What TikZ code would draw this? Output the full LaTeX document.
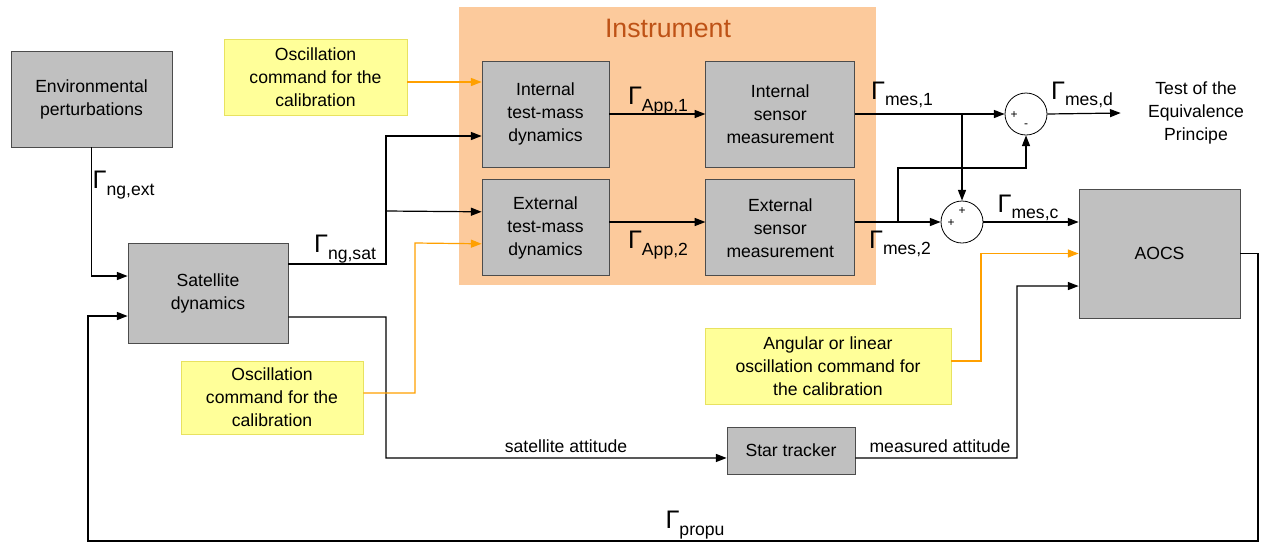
\documentclass[tikz,border=0pt]{standalone}
\usepackage{fontspec}
\setmainfont{Liberation Sans}
\usepackage{tikz}
\usetikzlibrary{shapes.geometric, arrows}
\usetikzlibrary{positioning}
\usetikzlibrary{arrows.meta}
\definecolor{boxgray}{RGB}{192,192,192}
\definecolor{notefill}{RGB}{255,255,153}
\definecolor{notedraw}{RGB}{232,226,96}
\definecolor{instrfill}{RGB}{252,202,156}
\definecolor{instrtext}{RGB}{190,82,22}
\definecolor{cmdorange}{RGB}{255,160,0}
\tikzstyle{block} = [rectangle, draw=black!70, fill=boxgray, line width=0.6pt, align=center, inner sep=2pt]
\tikzstyle{note} = [rectangle, draw=notedraw, fill=notefill, line width=0.6pt, align=center, inner sep=2pt]
\tikzstyle{sumnode} = [circle, draw=black, fill=white, line width=0.6pt, minimum size=31.5pt, inner sep=0pt]
\tikzstyle{arrow} = [line width=0.9pt,-{Triangle[length=8pt,width=6pt]}]
\tikzstyle{oarrow} = [arrow, draw=cmdorange]
\newcommand{\gam}[1]{{\fontsize{19}{19}\selectfont Γ}\raisebox{-5pt}{#1}}

\begin{document}
\begin{tikzpicture}[x=0.75pt, y=-0.75pt, font=\fontsize{13.2}{17.25}\selectfont]
  \tikzstyle{sign}=[inner sep=0pt, font=\fontsize{9}{9}\selectfont]
  \useasboundingbox (0,0) rectangle (1261,547);

  % instrument frame
  \node (instr) [fill=instrfill, inner sep=0pt, minimum width=312.75pt, minimum height=208.5pt] at (667.5,146) {};
  \node (instrtitle) [font=\fontsize{20}{20}\selectfont, text=instrtext] at (668,28) {Instrument};

  \node (inttm) [block, minimum width=95.25pt, minimum height=79.5pt] at (545.5,114) {Internal\\test-mass\\dynamics};
  \node (intsens) [block, right=72pt of inttm, minimum width=111.75pt, minimum height=79.5pt] {Internal\\sensor\\measurement};
  \node (exttm) [block, below=9pt of inttm, minimum width=95.25pt, minimum height=72pt] {External\\test-mass\\dynamics};
  \node (extsens) [block, below=9pt of intsens, minimum width=111.75pt, minimum height=72pt] {External\\sensor\\measurement};

  \node (env) [block, minimum width=120.75pt, minimum height=72pt] at (91.5,99) {Environmental\\perturbations};
  \node (sat) [block, minimum width=120pt, minimum height=75pt] at (208,293) {Satellite\\dynamics};
  \node (osctop) [note, minimum width=137.25pt, minimum height=57pt] at (315.5,77) {Oscillation\\command for the\\calibration};
  \node (oscbot) [note, minimum width=136.5pt, minimum height=54.75pt] at (272,397.5) {Oscillation\\command for the\\calibration};
  \node (angosc) [note, minimum width=184.5pt, minimum height=57pt] at (828,366) {Angular or linear\\oscillation command for\\the calibration};
  \node (star) [block, minimum width=96pt, minimum height=35.25pt] at (791,450.5) {Star tracker};
  \node (aocs) [block, minimum width=120.75pt, minimum height=96.75pt] at (1159.5,253.5) {AOCS};
  \node (sum1) [sumnode] at (1026,114) {};
  \node (sum2) [sumnode] at (962,222) {};
  \node (test) [align=center] at (1196,113) {Test of the\\Equivalence\\Principe};

  % signs of the summing points
  \node (s1a) [sign] at (1014,115) {+};
  \node (s1b) [sign] at (1026,126) {-};
  \node (s2a) [sign] at (951,223) {+};
  \node (s2b) [sign] at (962,211) {+};

  % signal names
  \node (gext) [anchor=west] at (88,185) {\gam{ng,ext}};
  \node (gsat) at (345,249) {\gam{ng,sat}};
  \node (gapp1) at (658,101) {\gam{App,1}};
  \node (gapp2) at (658,245) {\gam{App,2}};
  \node (gmes1) at (902,95) {\gam{mes,1}};
  \node (gmes2) at (900,244) {\gam{mes,2}};
  \node (gmesd) at (1082,95) {\gam{mes,d}};
  \node (gmesc) at (1028,208) {\gam{mes,c}};
  \node (gprop) at (695,525) {\gam{propu}};
  \node (satatt) at (566,446) {satellite attitude};
  \node (measatt) at (940,446) {measured attitude};

  \coordinate (satsplit) at (386,211);
  \coordinate (extsplit) at (898,222);

  \draw[arrow] (env.south) |- ([yshift=12.75pt]sat.west);
  \draw[arrow] (aocs.east) -| (1258,541) -| (88,316) -- ([yshift=-17.25pt]sat.west);
  \draw[arrow] ([yshift=21.75pt]sat.east) -| (386,136) -- ([yshift=-16.5pt]inttm.west);
  \draw[arrow] (satsplit) -- ([yshift=12pt]exttm.west);
  \draw[arrow] ([yshift=-18pt]sat.east) -| (386,458) -- ([yshift=-5.6pt]star.west);
  \draw[arrow] ([yshift=-5.6pt]star.east) -| (1017,286) -- ([yshift=-24.4pt]aocs.west);

  \draw[oarrow] ([yshift=24pt]inttm.west -| osctop.east) -- ([yshift=24pt]inttm.west);
  \draw[oarrow] ([yshift=3.4pt]oscbot.east) -| (415,243) -- ([yshift=-12pt]exttm.west);
  \draw[oarrow] ([yshift=3.75pt]angosc.east) -| (981,253.5) -- (aocs.west);

  \draw[arrow] (inttm.east) -- (intsens.west);
  \draw[arrow] (exttm.east |- sum2.west) -- (extsens.west |- sum2.west);
  \draw[arrow] (intsens.east) -- (sum1.west);
  \draw[arrow] (sum2.north |- intsens.east) -- (sum2.north);
  \draw[arrow] (extsens.east |- sum2.west) -- (sum2.west);
  \draw[arrow] (extsplit) -- (898,168) -| (sum1.south);
  \draw[arrow] (sum1.east) -- ([xshift=-17pt]test.west);
  \draw[arrow] (sum2.east) -- (aocs.west |- sum2.east);
\end{tikzpicture}
\end{document}
